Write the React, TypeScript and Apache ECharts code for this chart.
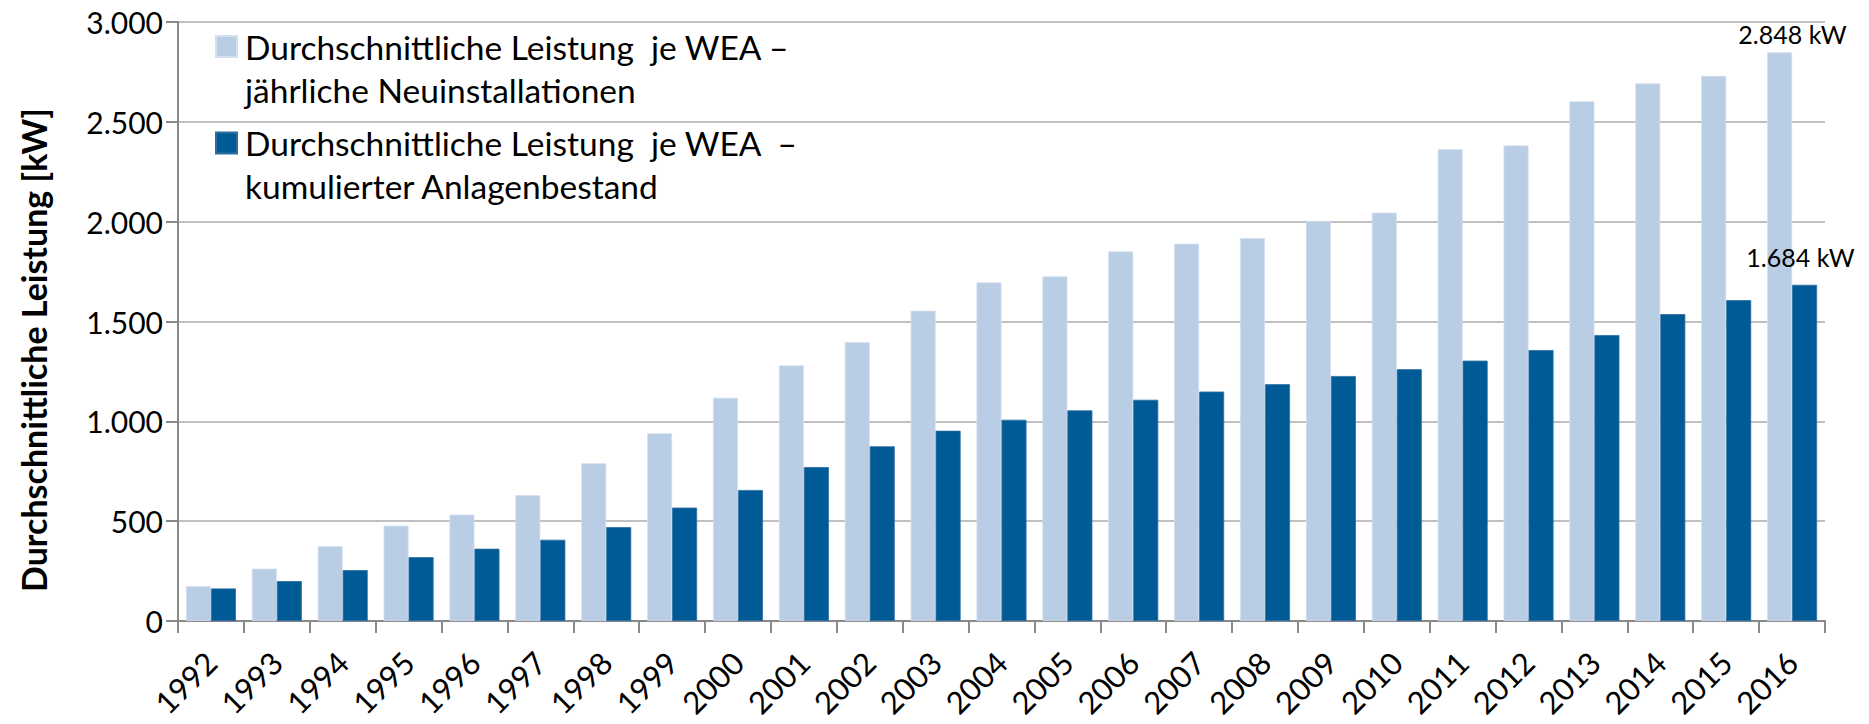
import React, { useEffect, useRef } from 'react';
import * as echarts from 'echarts';

const years = ['1992', '1993', '1994', '1995', '1996', '1997', '1998', '1999', '2000', '2001', '2002', '2003', '2004', '2005', '2006', '2007', '2008', '2009', '2010', '2011', '2012', '2013', '2014', '2015', '2016'];
const neuinstallationen = [175, 262, 375, 478, 533, 630, 790, 940, 1118, 1280, 1397, 1554, 1696, 1726, 1851, 1890, 1918, 2002, 2045, 2363, 2382, 2603, 2693, 2730, 2848];
const bestand = [163, 200, 255, 320, 362, 407, 470, 568, 656, 771, 875, 953, 1008, 1055, 1108, 1149, 1186, 1227, 1261, 1304, 1357, 1432, 1537, 1607, 1684];
const seriesNames = [
  'Durchschnittliche Leistung  je WEA –\njährliche Neuinstallationen',
  'Durchschnittliche Leistung  je WEA  –\nkumulierter Anlagenbestand',
];
const yAxisTitle = 'Durchschnittliche Leistung [kW]';
const unit = 'kW';
const yMin = 0;
const yMax = 3000;
const yStep = 500;

const fmt = (v: number) => String(Math.round(v)).replace(/\B(?=(\d{3})+(?!\d))/g, '.');

const FONT = 'Lato';
const LIGHT = '#B9CDE5';
const DARK = '#005A96';

function withLastLabel(values: number[], label: any) {
  return values.map((v, i) =>
    i === values.length - 1 ? { value: v, label } : { value: v }
  );
}

export default function App() {
  const ref = useRef<HTMLDivElement>(null);
  useEffect(() => {
    if (!ref.current) return;
    const chart = echarts.init(ref.current, undefined, { renderer: 'svg' });
    const legendText = {
      fontFamily: FONT,
      fontSize: 33.5,
      lineHeight: 43,
      color: '#000',
      padding: [0, 0, 0, 3],
    };
    const legendBase = {
      left: 215,
      padding: 0,
      icon: 'rect',
      itemWidth: 21,
      itemHeight: 21,
      selectedMode: false,
      textStyle: legendText,
      formatter: (name: string) => '\n' + name,
    };
    chart.setOption({
      animation: false,
      backgroundColor: '#fff',
      textStyle: { fontFamily: FONT },
      grid: { left: 178, right: 44, top: 22, bottom: 103, containLabel: false },
      legend: [
        { ...legendBase, data: [seriesNames[0]], top: -18 },
        { ...legendBase, data: [seriesNames[1]], top: 78.5 },
      ],
      graphic: [
        {
          type: 'text',
          x: 33,
          y: 350,
          rotation: Math.PI / 2,
          style: {
            text: yAxisTitle,
            fontFamily: FONT,
            fontSize: 34,
            fontWeight: 'bold',
            fill: '#000',
            align: 'center',
            verticalAlign: 'middle',
          },
        },
      ],
      xAxis: {
        type: 'category',
        data: years,
        axisLine: { lineStyle: { color: '#898989', width: 2 } },
        axisTick: { show: true, length: 12, lineStyle: { color: '#898989', width: 2 } },
        axisLabel: {
          rotate: 45,
          margin: 36,
          fontSize: 31,
          fontFamily: FONT,
          color: '#000',
          interval: 0,
        },
      },
      yAxis: {
        type: 'value',
        min: yMin,
        max: yMax,
        interval: yStep,
        axisLine: { show: true, lineStyle: { color: '#898989', width: 2 } },
        axisTick: { show: true, length: 12, lineStyle: { color: '#898989', width: 2 } },
        axisLabel: {
          margin: 15,
          fontSize: 30,
          fontFamily: FONT,
          color: '#000',
          formatter: (v: number) => fmt(v),
        },
        splitLine: { show: true, lineStyle: { color: '#C0C0C0', width: 2 } },
      },
      series: [
        {
          name: seriesNames[0],
          type: 'bar',
          barWidth: 25,
          barGap: '0%',
          itemStyle: { color: LIGHT, borderColor: '#D3E0EF', borderWidth: 0.8 },
          data: withLastLabel(neuinstallationen, {
            show: true,
            position: 'top',
            distance: 6,
            offset: [13, 0],
            fontFamily: FONT,
            fontSize: 25,
            color: '#000',
            formatter: (p: any) => `${fmt(p.value)} ${unit}`,
          }),
        },
        {
          name: seriesNames[1],
          type: 'bar',
          barWidth: 25,
          barGap: '0%',
          itemStyle: { color: DARK, borderColor: '#2E6FA3', borderWidth: 0.8 },
          data: withLastLabel(bestand, {
            show: true,
            position: 'top',
            distance: 15,
            offset: [-4, 0],
            fontFamily: FONT,
            fontSize: 25,
            color: '#000',
            formatter: (p: any) => `${fmt(p.value)} ${unit}`,
          }),
        },
      ],
    });
    return () => chart.dispose();
  }, []);
  return (
    <div
      ref={ref}
      style={{ position: 'absolute', left: 0, top: 0, width: 1869, height: 724 }}
    />
  );
}
